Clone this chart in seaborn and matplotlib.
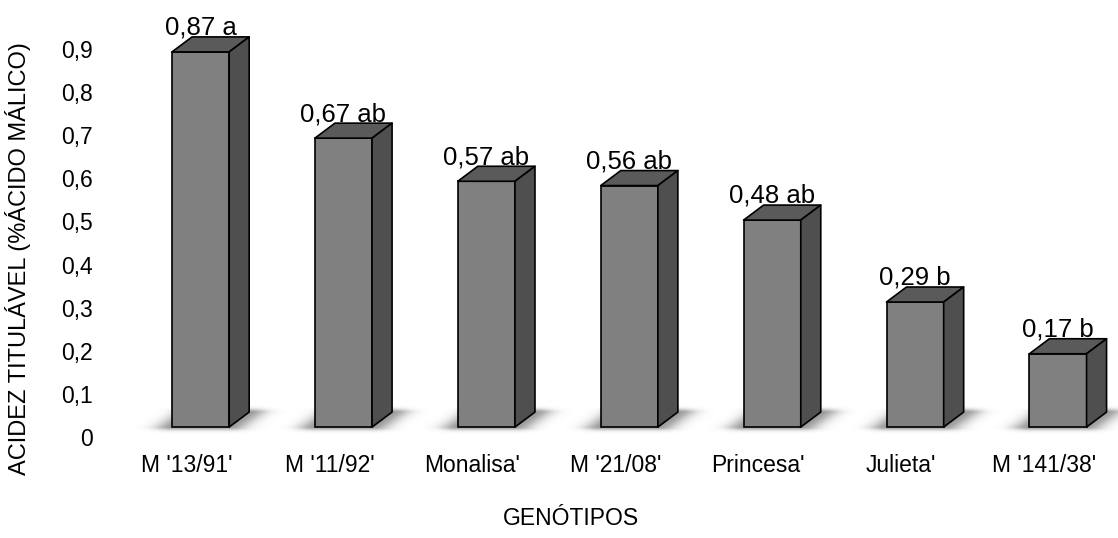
import numpy as np
import matplotlib
matplotlib.use("Agg")
import matplotlib.pyplot as plt
import matplotlib.transforms as mtransforms
from matplotlib.patches import Polygon
import seaborn as sns

# Data
genotipos = ["M '13/91'", "M '11/92'", "Monalisa'", "M '21/08'", "Princesa'", "Julieta'", "M '141/38'"]
acidez = [0.87, 0.67, 0.57, 0.56, 0.48, 0.29, 0.17]
letras = ["a", "ab", "ab", "ab", "ab", "b", "b"]
yticks = [0.0, 0.1, 0.2, 0.3, 0.4, 0.5, 0.6, 0.7, 0.8, 0.9]
ytick_labels = ["0", "0,1", "0,2", "0,3", "0,4", "0,5", "0,6", "0,7", "0,8", "0,9"]

sns.set_style("white")
plt.rcParams["font.family"] = ["Liberation Sans", "DejaVu Sans"]
plt.rcParams["text.color"] = "black"
plt.rcParams["axes.labelcolor"] = "black"
plt.rcParams["xtick.color"] = "black"
plt.rcParams["ytick.color"] = "black"

W, H = 1118, 538
fig = plt.figure(figsize=(W / 100, H / 100), dpi=100)
ax = fig.add_axes([112 / W, 98 / H, (W - 112) / W, 420 / H])

XLIM = (-0.62, 6.42)
YLIM = (-0.03, 0.944)
PX = (W - 112) / (XLIM[1] - XLIM[0])   # pixels per category unit
PY = 420 / (YLIM[1] - YLIM[0])         # pixels per value unit
DX = 20 / PX                           # depth offset of the 3D blocks
DY = 15 / PY

FRONT = "#808080"
TOP = "#5a5a5a"
SIDE = "#4f4f4f"

sns.barplot(x=genotipos, y=acidez, color=FRONT, width=0.4, saturation=1,
            edgecolor="black", linewidth=1.2, ax=ax, zorder=3)

for patch, val, let in zip(ax.patches, acidez, letras):
    x0 = patch.get_x()
    w = patch.get_width()
    x1 = x0 + w
    h = patch.get_height()

    # soft floor shadow under each block
    xa, xb = x0 - 45 / PX, x1 + DX + 50 / PX
    ya, yb = -8 / PY, DY + 8 / PY
    nx, ny = int((xb - xa) * PX), int((yb - ya) * PY)
    u = (np.linspace(xa, xb, nx) - x0) * PX
    v = np.linspace(ya, yb, ny) * PY
    U, V = np.meshgrid(u, v)
    shift = np.clip(V, 0, 15) * (20 / 15)
    left, right = shift, w * PX + shift
    dh = np.maximum(0, np.maximum(left - U, U - right))
    dv = np.maximum(0, np.maximum(-V, V - 15))
    alpha = 0.6 * np.exp(-(dh / 17) ** 2 - (dv / 3.5) ** 2)
    rgba = np.zeros((ny, nx, 4))
    rgba[..., :3] = 0.35
    rgba[..., 3] = alpha
    ax.imshow(rgba, extent=(xa, xb, ya, yb), origin="lower", aspect="auto",
              zorder=1, interpolation="bilinear")

    # top and side faces
    top = Polygon([(x0, h), (x1, h), (x1 + DX, h + DY), (x0 + DX, h + DY)],
                  closed=True, facecolor=TOP, edgecolor="black", linewidth=1.2,
                  joinstyle="round", zorder=3)
    side = Polygon([(x1, 0), (x1 + DX, DY), (x1 + DX, h + DY), (x1, h)],
                   closed=True, facecolor=SIDE, edgecolor="black", linewidth=1.2,
                   joinstyle="round", zorder=3)
    ax.add_patch(top)
    ax.add_patch(side)

    label = f"{val:.2f}".replace(".", ",") + " " + let
    ax.annotate(label, xy=(x0 + w / 2, h + DY), xytext=(0, 1.5),
                textcoords="offset points", ha="center", va="baseline",
                fontsize=18.5, color="black", zorder=5, annotation_clip=False)

ax.set_xlim(*XLIM)
ax.set_ylim(*YLIM)
for s in ax.spines.values():
    s.set_visible(False)

ax.set_yticks(yticks)
ax.set_yticklabels(ytick_labels, fontsize=16.5)
ax.tick_params(axis="y", length=0, pad=14)
ax.tick_params(axis="x", length=0, pad=10, labelsize=16.5)

ydown = mtransforms.ScaledTranslation(0, -10 / 100, fig.dpi_scale_trans)
for lab in ax.get_yticklabels():
    lab.set_transform(lab.get_transform() + ydown)
xleft = mtransforms.ScaledTranslation(-14 / 100, 0, fig.dpi_scale_trans)
for lab in ax.get_xticklabels():
    lab.set_transform(lab.get_transform() + xleft)

ax.set_xlabel("GENÓTIPOS", fontsize=16.5)
ax.xaxis.set_label_coords((571 - 112) / (W - 112), (440 - 507) / 420)
ax.set_ylabel("ACIDEZ TITULÁVEL (%ÁCIDO MÁLICO)", fontsize=17)
ax.yaxis.set_label_coords((31 - 112) / (W - 112), (440 - 259) / 420)

fig.savefig("out.png", dpi=100, facecolor="white")
